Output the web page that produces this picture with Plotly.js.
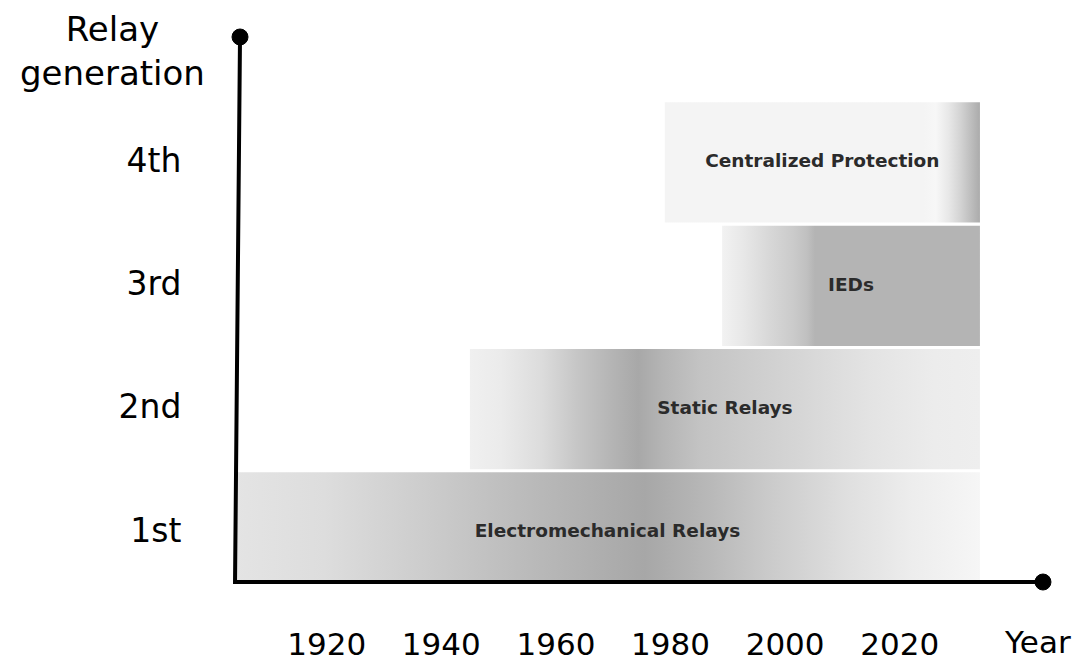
<!DOCTYPE html>
<html>
<head>
<meta charset="utf-8">
<script src="https://cdn.plot.ly/plotly-3.0.1.min.js"></script>
<style>
  html, body { margin: 0; padding: 0; background: #ffffff; }
  #chart { width: 1084px; height: 664px; }
</style>
</head>
<body>
<div id="chart"></div>
<script>
// ---- data ----
const categories = ['Electromechanical Relays', 'Static Relays', 'IEDs', 'Centralized Protection'];
const generation = [1, 2, 3, 4];
const generationLabels = ['1st', '2nd', '3rd', '4th'];
const startYear = [1904, 1945, 1989, 1979];
const endYear = [2034, 2034, 2034, 2034];
const yearTicks = [1920, 1940, 1960, 1980, 2000, 2020];
const yearTickLabels = ['1920', '1940', '1960', '1980', '2000', '2020'];

// ---- styling ----
const X_RANGE = [1902.25, 2046.75];
const Y_RANGE = [0.499, 5.081];
const AXIS_X0 = 1904, AXIS_X1 = 2045;
const AXIS_Y0 = 0.58, AXIS_Y1 = 5.0;
const AXIS_TOP_X = 1904.87;

const gradients = [
  [[0, '#e4e4e4'], [0.12, '#dddddd'], [0.25, '#cdcdcd'], [0.38, '#bcbcbc'], [0.5, '#adadad'],
   [0.55, '#a7a7a7'], [0.64, '#b9b9b9'], [0.72, '#cbcbcb'], [0.82, '#dfdfdf'], [0.91, '#ededed'], [1, '#f6f6f6']],
  [[0, '#f0f0f0'], [0.06, '#ebebeb'], [0.14, '#dcdcdc'], [0.21, '#c6c6c6'], [0.28, '#b4b4b4'],
   [0.33, '#a8a8a8'], [0.38, '#b5b5b5'], [0.45, '#c3c3c3'], [0.54, '#cccccc'], [0.65, '#d6d6d6'],
   [0.78, '#e3e3e3'], [0.91, '#ececec'], [1, '#eeeeee']],
  [[0, '#f2f2f2'], [0.08, '#e8e8e8'], [0.18, '#d8d8d8'], [0.28, '#cacaca'], [0.33, '#c0c0c0'],
   [0.36, '#b4b4b4'], [1, '#b4b4b4']],
  [[0, '#f4f4f4'], [0.82, '#f4f4f4'], [0.86, '#f7f7f7'], [0.9, '#e8e8e8'], [0.94, '#d2d2d2'],
   [0.98, '#b8b8b8'], [1, '#ababab']]
];

const traces = [];
categories.forEach((name, i) => {
  const g = generation[i];
  const bottom = Math.max(g - 0.505, AXIS_Y0);
  const top = g + 0.47;
  traces.push({
    type: 'scatter',
    mode: 'lines',
    x: [startYear[i], endYear[i], endYear[i], startYear[i], startYear[i]],
    y: [bottom, bottom, top, top, bottom],
    fill: 'toself',
    fillgradient: { type: 'horizontal', colorscale: gradients[i] },
    line: { width: 0, color: 'rgba(0,0,0,0)' },
    hoverinfo: 'skip',
    showlegend: false
  });
});

// axis lines
traces.push({
  type: 'scatter',
  mode: 'lines',
  x: [AXIS_TOP_X, AXIS_X0, AXIS_X1],
  y: [AXIS_Y1, AXIS_Y0, AXIS_Y0],
  line: { color: '#000000', width: 4 },
  hoverinfo: 'skip',
  showlegend: false
});
// end dots
traces.push({
  type: 'scatter',
  mode: 'markers',
  x: [AXIS_TOP_X, AXIS_X1],
  y: [AXIS_Y1, AXIS_Y0],
  marker: { color: '#000000', size: 16, opacity: 1, line: { color: '#000000', width: 1 } },
  cliponaxis: false,
  hoverinfo: 'skip',
  showlegend: false
});

// bar labels
traces.push({
  type: 'scatter',
  mode: 'text',
  x: categories.map((c, i) => (startYear[i] + endYear[i]) / 2),
  y: generation.map(g => g - 0.02),
  text: categories,
  textposition: 'middle center',
  textfont: { family: 'DejaVu Sans, sans-serif', size: 18.5, color: '#2b2b2b', weight: 'bold' },
  cliponaxis: false,
  hoverinfo: 'skip',
  showlegend: false
});

const layout = {
  width: 1084,
  height: 664,
  margin: { l: 225, r: 31, t: 27, b: 72 },
  paper_bgcolor: '#ffffff',
  plot_bgcolor: '#ffffff',
  showlegend: false,
  xaxis: {
    range: X_RANGE,
    showgrid: false,
    zeroline: false,
    showline: false,
    tickmode: 'array',
    tickvals: yearTicks,
    ticktext: yearTickLabels,
    ticks: 'outside',
    ticklen: 25,
    tickcolor: 'rgba(0,0,0,0)',
    tickfont: { family: 'DejaVu Sans, sans-serif', size: 31, color: '#000000' },
    fixedrange: true
  },
  yaxis: {
    range: Y_RANGE,
    showgrid: false,
    zeroline: false,
    showline: false,
    tickmode: 'array',
    tickvals: generation,
    ticktext: generationLabels,
    ticks: 'outside',
    ticklen: 36,
    tickcolor: 'rgba(0,0,0,0)',
    tickfont: { family: 'DejaVu Sans, sans-serif', size: 33, color: '#000000' },
    fixedrange: true
  },
  annotations: [
    {
      text: 'Relay<br>generation',
      xref: 'paper', yref: 'paper',
      x: -0.1353, y: 0.9575,
      xanchor: 'center', yanchor: 'middle',
      showarrow: false,
      align: 'center',
      font: { family: 'DejaVu Sans, sans-serif', size: 34, color: '#000000' }
    },
    {
      text: 'Year',
      xref: 'paper', yref: 'paper',
      x: 0.9807, y: -0.088,
      xanchor: 'center', yanchor: 'middle',
      showarrow: false,
      font: { family: 'DejaVu Sans, sans-serif', size: 31, color: '#000000' }
    }
  ]
};

Plotly.newPlot('chart', traces, layout, { displayModeBar: false, staticPlot: true });
</script>
</body>
</html>
